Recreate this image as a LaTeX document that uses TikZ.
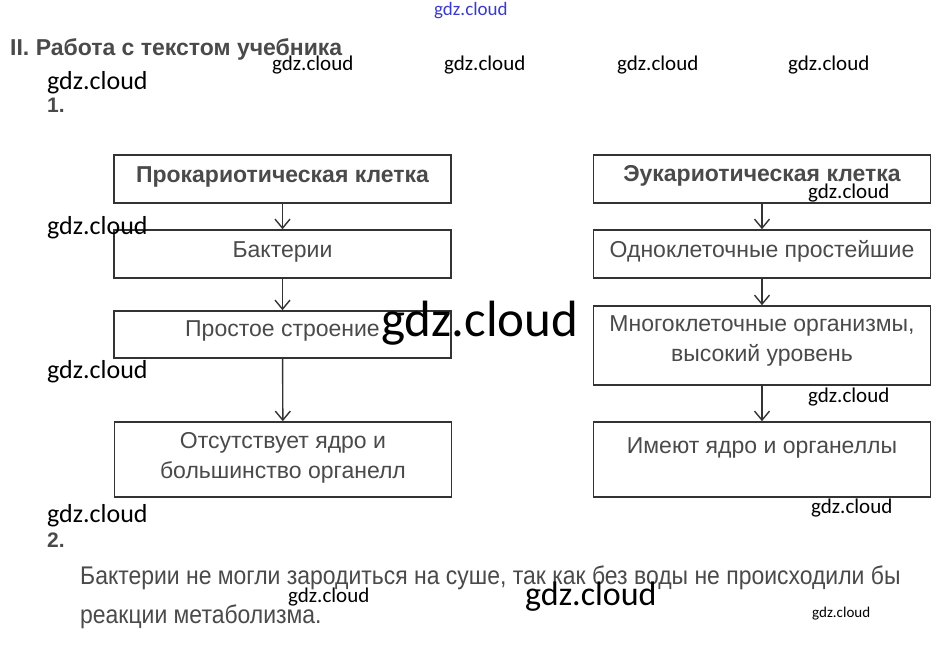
\documentclass[tikz,border=0pt]{standalone}
\usepackage{fontspec}
\setmainfont{Liberation Sans}
\newfontfamily\wm{Carlito}
\newfontfamily\narrowfont[FakeStretch=0.9]{Liberation Sans}
\usetikzlibrary{arrows.meta}
\definecolor{txt}{HTML}{4A4A4A}
\definecolor{frame}{HTML}{333333}
\definecolor{wmblue}{HTML}{3A3ACC}
\tikzset{
  box/.style={draw=frame, line width=1.6pt, inner sep=0pt, minimum width=337pt},
  btxt/.style={text=txt, font=\fontsize{23}{30}\selectfont, align=center, inner sep=0pt},
  flow/.style={draw=frame, line width=1.4pt, -{Straight Barb[length=9pt,width=15pt,line width=1.4pt]}},
  wmark/.style={font=\wm, text=black, inner sep=0pt, anchor=west},
}
\begin{document}
\begin{tikzpicture}[x=1pt,y=-1pt]
\useasboundingbox[fill=white] (0,0) rectangle (942,669);

% headings
\node[anchor=west, inner sep=0pt, text=txt, font=\bfseries\fontsize{23}{26}\selectfont] (h) at (10,49) {II. Работа с текстом учебника};
\node[anchor=west, inner sep=0pt, text=txt, font=\bfseries\fontsize{21}{24}\selectfont] (n1) at (47,105) {1.};
\node[anchor=west, inner sep=0pt, text=txt, font=\bfseries\fontsize{21}{24}\selectfont] (n2) at (47,540) {2.};

% left column
\node[box, minimum height=48pt] (l1) at (282.5,179) {};
\node[btxt, font=\bfseries\fontsize{23}{26}\selectfont] (l1t) at (282.5,177) {Прокариотическая клетка};
\node[box, minimum height=48pt] (l2) at (282.5,254) {};
\node[btxt] (l2t) at (282.5,252) {Бактерии};
\node[box, minimum height=47pt] (l3) at (282.5,334.5) {};
\node[btxt] (l3t) at (282.5,331) {Простое строение};
\node[box, minimum height=75pt] (l4) at (283,459.5) {};
\node[btxt] (l4t) at (283,457.5) {Отсутствует ядро и\\большинство органелл};

\draw[flow] (l1) -- (l2);
\draw[flow] (l2) -- (l3);
\draw[flow] (l3) -- (l4);

% right column
\node[box, minimum height=48pt] (r1) at (762,179) {};
\node[btxt, font=\bfseries\fontsize{23}{26}\selectfont] (r1t) at (762,176) {Эукариотическая клетка};
\node[box, minimum height=48pt] (r2) at (762,254) {};
\node[btxt] (r2t) at (762,251) {Одноклеточные простейшие};
\node[box, minimum height=79pt] (r3) at (762,345.5) {};
\node[btxt] (r3t) at (762,341) {Многоклеточные организмы,\\высокий уровень};
\node[box, minimum height=75pt] (r4) at (762,459.5) {};
\node[btxt] (r4t) at (762,448) {Имеют ядро и органеллы};

\draw[flow] (r1) -- (r2);
\draw[flow] (r2) -- (r3);
\draw[flow] (r3) -- (r4);

% paragraph
\node[anchor=west, inner sep=0pt, text=txt, font=\narrowfont\fontsize{25.5}{28}\selectfont] (p1) at (80,578) {Бактерии не могли зародиться на суше, так как без воды не происходили бы};
\node[anchor=west, inner sep=0pt, text=txt, font=\narrowfont\fontsize{25.5}{28}\selectfont] (p2) at (80,617) {реакции метаболизма.};

% watermarks
\node[wmark, text=wmblue, font=\wm\fontsize{19}{20}\selectfont] (w0) at (434,11) {gdz.cloud};
\node[wmark, font=\wm\fontsize{21}{22}\selectfont] (w1) at (272,65) {gdz.cloud};
\node[wmark, font=\wm\fontsize{21}{22}\selectfont] (w2) at (444,65) {gdz.cloud};
\node[wmark, font=\wm\fontsize{21}{22}\selectfont] (w3) at (617,65) {gdz.cloud};
\node[wmark, font=\wm\fontsize{21}{22}\selectfont] (w4) at (788,65) {gdz.cloud};
\node[wmark, font=\wm\fontsize{26}{28}\selectfont] (w5) at (47,83) {gdz.cloud};
\node[wmark, font=\wm\fontsize{26}{28}\selectfont] (w6) at (47,228) {gdz.cloud};
\node[wmark, font=\wm\fontsize{26}{28}\selectfont] (w7) at (47,372) {gdz.cloud};
\node[wmark, font=\wm\fontsize{26}{28}\selectfont] (w8) at (47,516) {gdz.cloud};
\node[wmark, font=\wm\fontsize{51}{54}\selectfont] (w9) at (381,323) {gdz.cloud};
\node[wmark, font=\wm\fontsize{21}{22}\selectfont] (w10) at (808,193) {gdz.cloud};
\node[wmark, font=\wm\fontsize{21}{22}\selectfont] (w11) at (808,397) {gdz.cloud};
\node[wmark, font=\wm\fontsize{21}{22}\selectfont] (w12) at (811,508) {gdz.cloud};
\node[wmark, font=\wm\fontsize{21}{22}\selectfont] (w13) at (288,597) {gdz.cloud};
\node[wmark, font=\wm\fontsize{34}{36}\selectfont] (w14) at (525,597) {gdz.cloud};
\node[wmark, font=\wm\fontsize{15}{16}\selectfont] (w15) at (812,614) {gdz.cloud};
\end{tikzpicture}
\end{document}
